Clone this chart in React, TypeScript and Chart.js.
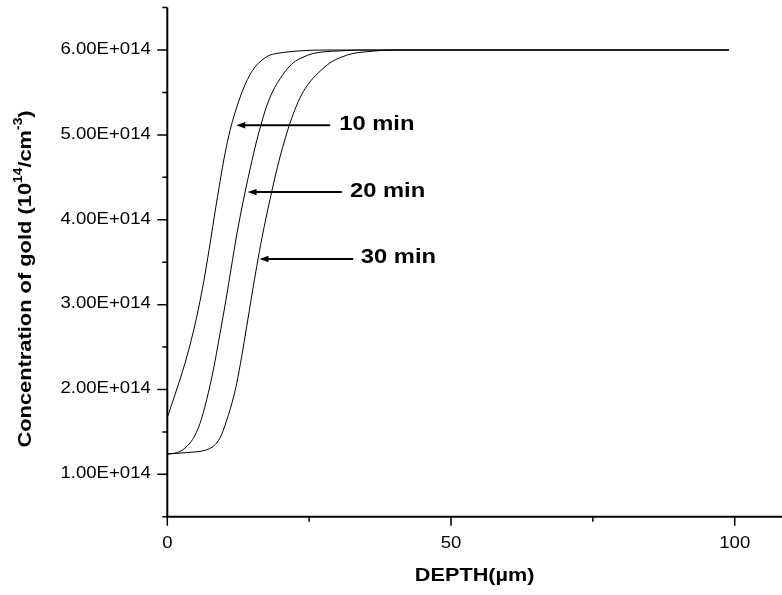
import React, { useEffect, useRef } from 'react';
import { Chart, registerables } from 'chart.js';

Chart.register(...registerables);

// ---- data (depth in µm, concentration in cm^-3) ----
const depth10 = [0, 1.36, 3.12, 4.58, 5.76, 6.65, 7.61, 8.41, 9.29, 10.17, 11.05, 11.93, 12.81, 13.69, 14.57, 15.45, 16.33, 17.74, 19.33, 21.6, 23.4, 26.9, 30.4, 99];
const conc10 = [1.67e14, 1.94e14, 2.31e14, 2.68e14, 3.04e14, 3.36e14, 3.75e14, 4.09e14, 4.45e14, 4.78e14, 5.05e14, 5.26e14, 5.44e14, 5.59e14, 5.71e14, 5.80e14, 5.86e14, 5.93e14, 5.96e14, 5.98e14, 5.99e14, 6.0e14, 6.0e14, 6.0e14];

const depth20 = [0, 1.36, 2.24, 3.12, 4.0, 4.88, 5.76, 6.94, 8.11, 9.29, 10.35, 11.23, 12.23, 12.99, 13.69, 14.66, 15.75, 16.6, 17.52, 18.63, 19.86, 20.92, 22.2, 23.74, 25.73, 27.8, 30.45, 33.96, 99];
const conc20 = [1.24e14, 1.25e14, 1.27e14, 1.31e14, 1.37e14, 1.46e14, 1.60e14, 1.88e14, 2.23e14, 2.66e14, 3.06e14, 3.42e14, 3.82e14, 4.09e14, 4.32e14, 4.62e14, 4.93e14, 5.14e14, 5.34e14, 5.52e14, 5.66e14, 5.76e14, 5.85e14, 5.91e14, 5.96e14, 5.98e14, 5.99e14, 6.0e14, 6.0e14];

const depth30 = [0, 2.24, 4.0, 5.76, 6.94, 7.88, 8.71, 9.29, 9.87, 10.43, 11.05, 11.67, 12.23, 13.11, 13.99, 14.87, 15.76, 16.69, 18.1, 18.98, 19.86, 20.74, 21.63, 22.68, 23.97, 25.33, 26.92, 28.68, 30.45, 32.74, 35.14, 39.78, 44.5, 99];
const conc30 = [1.24e14, 1.25e14, 1.26e14, 1.27e14, 1.29e14, 1.32e14, 1.37e14, 1.43e14, 1.52e14, 1.63e14, 1.76e14, 1.91e14, 2.07e14, 2.39e14, 2.74e14, 3.10e14, 3.45e14, 3.79e14, 4.24e14, 4.50e14, 4.74e14, 4.95e14, 5.14e14, 5.33e14, 5.51e14, 5.64e14, 5.75e14, 5.85e14, 5.91e14, 5.96e14, 5.98e14, 6.0e14, 6.0e14, 6.0e14];

// annotations (arrows pointing at the curves)
const arrowLabels = ['10 min', '20 min', '30 min'];
const arrowY = [5.114e14, 4.326e14, 3.538e14];
const arrowTipX = [12.15, 14.14, 16.25];
const arrowTailX = [28.7, 30.76, 32.75];
const arrowTextX = [30.3, 32.2, 34.1];

// axes
const xMin = 0;
const xMax = 108.33;
const yMin = 0.5e14;
const yMax = 6.5e14;
const xMajorTicks = [0, 50, 100];
const xMinorTicks = [25, 75];
const yMajorTicks = [1e14, 2e14, 3e14, 4e14, 5e14, 6e14];
const yMinorTicks = [0.5e14, 1.5e14, 2.5e14, 3.5e14, 4.5e14, 5.5e14, 6.5e14];
const xTitle = 'DEPTH(\u00b5m)';
const yTitleParts = [
  { t: 'Concentration of gold (10', sup: false },
  { t: '14', sup: true },
  { t: '/cm', sup: false },
  { t: '-3', sup: true },
  { t: ')', sup: false },
];

const FONT = '"Liberation Sans", Arial, sans-serif';

function fmtSci(v: number): string {
  const exp = Math.floor(Math.log10(v) + 1e-9);
  const mant = v / Math.pow(10, exp);
  return mant.toFixed(2) + 'E+' + String(exp).padStart(3, '0');
}

function stretchText(ctx: CanvasRenderingContext2D, text: string, x: number, y: number, font: string, align: string, sx: number) {
  ctx.save();
  ctx.font = font;
  const w = ctx.measureText(text).width * sx;
  let x0 = x;
  if (align === 'center') x0 = x - w / 2;
  else if (align === 'right') x0 = x - w;
  ctx.translate(x0, y);
  ctx.scale(sx, 1);
  ctx.textAlign = 'left';
  ctx.textBaseline = 'alphabetic';
  ctx.fillStyle = '#000';
  ctx.fillText(text, 0, 0);
  ctx.restore();
}

const decorPlugin = {
  id: 'decor',
  afterDatasetsDraw(chart: any) {
    const ctx: CanvasRenderingContext2D = chart.ctx;
    const xs = chart.scales.x;
    const ys = chart.scales.y;
    const { left, right, top, bottom } = chart.chartArea;
    ctx.save();
    ctx.strokeStyle = '#000';
    ctx.fillStyle = '#000';
    // axis lines
    ctx.lineWidth = 2;
    ctx.beginPath();
    ctx.moveTo(left, top);
    ctx.lineTo(left, bottom + 1);
    ctx.moveTo(left - 1, bottom);
    ctx.lineTo(right, bottom);
    ctx.stroke();
    // ticks
    ctx.lineWidth = 1.5;
    ctx.beginPath();
    yMajorTicks.forEach((v) => {
      const y = ys.getPixelForValue(v);
      ctx.moveTo(left - 10, y);
      ctx.lineTo(left, y);
    });
    yMinorTicks.forEach((v) => {
      const y = ys.getPixelForValue(v);
      ctx.moveTo(left - 5, y);
      ctx.lineTo(left, y);
    });
    xMajorTicks.forEach((v) => {
      const x = xs.getPixelForValue(v);
      ctx.moveTo(x, bottom);
      ctx.lineTo(x, bottom + 9);
    });
    xMinorTicks.forEach((v) => {
      const x = xs.getPixelForValue(v);
      ctx.moveTo(x, bottom);
      ctx.lineTo(x, bottom + 5);
    });
    ctx.stroke();
    // tick labels
    const tickFont = '16px ' + FONT;
    yMajorTicks.forEach((v) => {
      const y = ys.getPixelForValue(v);
      stretchText(ctx, fmtSci(v), left - 16.5, y + 3.8, tickFont, 'right', 1.16);
    });
    xMajorTicks.forEach((v) => {
      const x = xs.getPixelForValue(v);
      stretchText(ctx, String(v), x, bottom + 31, tickFont, 'center', 1.16);
    });
    // x title
    stretchText(ctx, xTitle, (left + right) / 2, bottom + 64, 'bold 19px ' + FONT, 'center', 1.14);
    // y title (rotated, with superscripts)
    const mainFont = 'bold 19px ' + FONT;
    const supFont = 'bold 12px ' + FONT;
    const sx = 1.15;
    let total = 0;
    yTitleParts.forEach((p) => {
      ctx.font = p.sup ? supFont : mainFont;
      total += ctx.measureText(p.t).width * sx;
    });
    ctx.save();
    ctx.translate(30.5, 279);
    ctx.rotate(-Math.PI / 2);
    let cx = -total / 2;
    yTitleParts.forEach((p) => {
      ctx.font = p.sup ? supFont : mainFont;
      const w = ctx.measureText(p.t).width * sx;
      ctx.save();
      ctx.translate(cx, p.sup ? -8.5 : 0);
      ctx.scale(sx, 1);
      ctx.textAlign = 'left';
      ctx.textBaseline = 'alphabetic';
      ctx.fillText(p.t, 0, 0);
      ctx.restore();
      cx += w;
    });
    ctx.restore();
    // arrows with labels
    arrowLabels.forEach((lab, i) => {
      const y = ys.getPixelForValue(arrowY[i]);
      const xt = xs.getPixelForValue(arrowTipX[i]);
      const xl = xs.getPixelForValue(arrowTailX[i]);
      ctx.lineWidth = 2;
      ctx.beginPath();
      ctx.moveTo(xl, y);
      ctx.lineTo(xt + 6, y);
      ctx.stroke();
      ctx.beginPath();
      ctx.moveTo(xt, y);
      ctx.lineTo(xt + 9, y - 3.2);
      ctx.lineTo(xt + 9, y + 3.2);
      ctx.closePath();
      ctx.fill();
      stretchText(ctx, lab, xs.getPixelForValue(arrowTextX[i]), y + 4.5, 'bold 21px ' + FONT, 'left', 1.13);
    });
    ctx.restore();
  },
};

function toPoints(xsArr: number[], ysArr: number[]) {
  return xsArr.map((x, i) => ({ x, y: ysArr[i] }));
}

export default function App() {
  const ref = useRef<HTMLCanvasElement | null>(null);
  useEffect(() => {
    if (!ref.current) return;
    const mk = (label: string, d: number[], c: number[]) => ({
      label,
      data: toPoints(d, c),
      borderColor: '#000',
      backgroundColor: '#000',
      borderWidth: 1,
      pointRadius: 0,
      fill: false,
      cubicInterpolationMode: 'monotone' as const,
    });
    const chart = new Chart(ref.current, {
      type: 'line',
      data: {
        datasets: [mk('10 min', depth10, conc10), mk('20 min', depth20, conc20), mk('30 min', depth30, conc30)],
      },
      options: {
        animation: false,
        responsive: false,
        devicePixelRatio: 1,
        parsing: false as any,
        layout: { padding: { left: 167.3, right: 0, top: 7.6, bottom: 78.2 } },
        plugins: { legend: { display: false }, tooltip: { enabled: false } },
        scales: {
          x: { type: 'linear', min: xMin, max: xMax, display: false },
          y: { type: 'linear', min: yMin, max: yMax, display: false },
        },
      },
      plugins: [decorPlugin],
    });
    return () => chart.destroy();
  }, []);
  return (
    <div style={{ position: 'fixed', left: 0, top: 0, width: 782, height: 595, background: '#fff' }}>
      <canvas ref={ref} width={782} height={595} style={{ display: 'block' }} />
    </div>
  );
}
